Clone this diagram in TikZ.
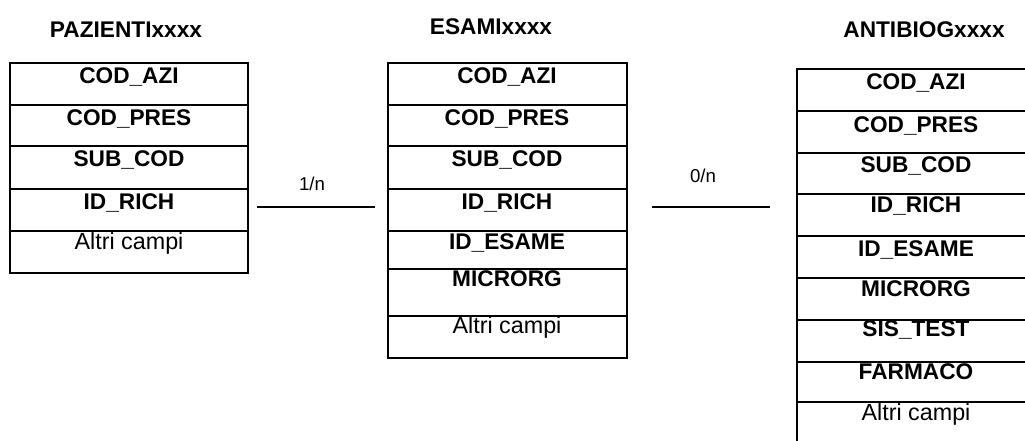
\documentclass[tikz,border=0pt]{standalone}
\usepackage{fontspec}
\setmainfont{Liberation Sans}
\begin{document}
\begin{tikzpicture}[x=0.75pt, y=-0.75pt,
        title/.style={font=\bfseries\fontsize{17}{20}\selectfont, anchor=base},
        field/.style={font=\bfseries\fontsize{17}{20}\selectfont, anchor=base},
        other/.style={font=\fontsize{17.5}{20}\selectfont, anchor=base},
        card/.style={font=\fontsize{14}{16}\selectfont, anchor=base},
        grid/.style={line width=1pt}]
    \clip (0, 0) rectangle (1025, 441);

    % PAZIENTI
    \node[title] (tpaz) at (126, 38) {PAZIENTIxxxx};
    \draw[grid] (10, 63) rectangle (248, 273);
    \draw[grid] (10, 105) -- (248, 105) (10, 146) -- (248, 146) (10, 189) -- (248, 189) (10, 231) -- (248, 231);
    \node[field] (paz1) at (129, 84) {COD\_AZI};
    \node[field] (paz2) at (129, 126) {COD\_PRES};
    \node[field] (paz3) at (129, 167) {SUB\_COD};
    \node[field] (paz4) at (129, 210) {ID\_RICH};
    \node[other] (paz5) at (129, 250) {Altri campi};

    % ESAMI
    \node[title] (tesa) at (491, 35) {ESAMIxxxx};
    \draw[grid] (388, 63) rectangle (627, 358);
    \draw[grid] (388, 105) -- (627, 105) (388, 146) -- (627, 146) (388, 189) -- (627, 189) (388, 231) -- (627, 231)
        (388, 269) -- (627, 269) (388, 316) -- (627, 316);
    \node[field] (esa1) at (507, 84) {COD\_AZI};
    \node[field] (esa2) at (507, 126) {COD\_PRES};
    \node[field] (esa3) at (507, 167) {SUB\_COD};
    \node[field] (esa4) at (507, 210) {ID\_RICH};
    \node[field] (esa5) at (507, 250) {ID\_ESAME};
    \node[field] (esa6) at (507, 287) {MICRORG};
    \node[other] (esa7) at (507, 334) {Altri campi};

    % ANTIBIOG
    \node[title] (tant) at (924, 38) {ANTIBIOGxxxx};
    \draw[grid] (797, 69) rectangle (1035, 450);
    \draw[grid] (797, 111) -- (1035, 111) (797, 153) -- (1035, 153) (797, 194) -- (1035, 194) (797, 236) -- (1035, 236)
        (797, 278) -- (1035, 278) (797, 320) -- (1035, 320) (797, 362) -- (1035, 362) (797, 402) -- (1035, 402);
    \node[field] (ant1) at (916, 90) {COD\_AZI};
    \node[field] (ant2) at (916, 133) {COD\_PRES};
    \node[field] (ant3) at (916, 173) {SUB\_COD};
    \node[field] (ant4) at (916, 213) {ID\_RICH};
    \node[field] (ant5) at (916, 257) {ID\_ESAME};
    \node[field] (ant6) at (916, 297) {MICRORG};
    \node[field] (ant7) at (916, 337) {SIS\_TEST};
    \node[field] (ant8) at (916, 380) {FARMACO};
    \node[other] (ant9) at (916, 421) {Altri campi};

    % relazioni
    \coordinate (r1a) at (257, 207);
    \coordinate (r1b) at (375, 207);
    \coordinate (r2a) at (652, 207);
    \coordinate (r2b) at (770, 207);
    \draw[grid] (r1a) -- (r1b);
    \draw[grid] (r2a) -- (r2b);
    \node[card] (c1) at (312, 191) {1/n};
    \node[card] (c2) at (703, 183) {0/n};
\end{tikzpicture}
\end{document}
